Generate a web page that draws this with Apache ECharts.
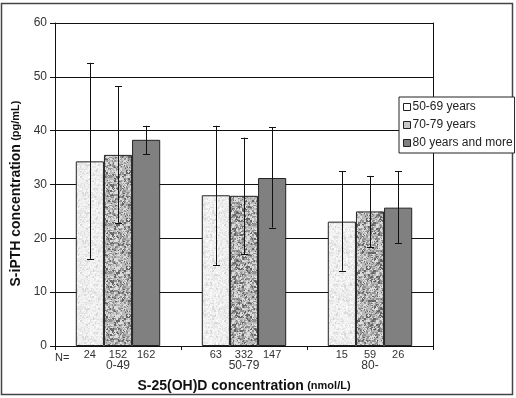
<!DOCTYPE html>
<html>
<head>
<meta charset="utf-8">
<script src="https://cdn.jsdelivr.net/npm/echarts@6/dist/echarts.min.js"></script>
<style>
  html, body { margin: 0; padding: 0; background: #fff; }
  #chart { width: 516px; height: 398px; }
</style>
</head>
<body>
<div id="chart"></div>
<script>
// categories on the x axis (S-25(OH)D groups)
const categories = ['0-49', '50-79', '80-'];
const seriesNames = ['50-69 years', '70-79 years', '80 years and more'];

// mean S-iPTH per age group
const mean5069 = [34.3, 28.0, 23.1];
const mean7079 = [35.5, 27.9, 25.0];
const mean80 = [38.3, 31.2, 25.7];

// error bar ends
const low5069 = [16.1, 15.0, 14.0];
const high5069 = [52.6, 40.9, 32.5];
const low7079 = [22.9, 17.1, 18.3];
const high7079 = [48.3, 38.7, 31.6];
const low80 = [35.6, 22.0, 19.1];
const high80 = [40.9, 40.6, 32.5];

// group sizes
const n5069 = [24, 63, 15];
const n7079 = [152, 332, 59];
const n80 = [162, 147, 26];

const yTicks = [0, 10, 20, 30, 40, 50, 60];

const FONT = 'Liberation Sans, Arial, sans-serif';

// speckled fill textures (deterministic hash, purely cosmetic)
function makeTexture(palette, size, block) {
  const c = document.createElement('canvas');
  c.width = size;
  c.height = size;
  const ctx = c.getContext('2d');
  let s = 12345;
  const next = () => {
    s = (s * 1103515245 + 12345) & 0x7fffffff;
    return s / 0x7fffffff;
  };
  const pick = (r) => {
    for (const [p, cc] of palette) {
      if (r < p) return cc;
    }
    return palette[palette.length - 1][1];
  };
  for (let y = 0; y < size; y += block) {
    for (let x = 0; x < size; x += block) {
      ctx.fillStyle = pick(next());
      ctx.fillRect(x, y, block, block);
    }
  }
  // a second, finer pass so the blobs are not square
  for (let y = 0; y < size; y++) {
    for (let x = 0; x < size; x++) {
      if (next() < 0.3) {
        ctx.fillStyle = pick(next());
        ctx.fillRect(x, y, 1, 1);
      }
    }
  }
  return c;
}

const lightTex = makeTexture([[0.5, '#f2f2f2'], [0.75, '#e6e6e6'], [0.88, '#d9d9d9'], [1, '#fbfbfb']], 48, 2);
const midTex = makeTexture([[0.17, '#666666'], [0.42, '#929292'], [0.72, '#bababa'], [1, '#dcdcdc']], 48, 2);

const chart = echarts.init(document.getElementById('chart'));

const means = [mean5069, mean7079, mean80];
const lows = [low5069, low7079, low80];
const highs = [high5069, high7079, high80];
const counts = [n5069, n7079, n80];
const fills = [
  { image: lightTex, repeat: 'repeat' },
  { image: midTex, repeat: 'repeat' },
  '#808080'
];
const legendColors = ['#ffffff', '#c8c8c8', '#808080'];

const CAT_GAP = 0.33;

const barSeries = means.map((vals, si) => ({
  name: seriesNames[si],
  type: 'bar',
  data: vals,
  barGap: '0%',
  barCategoryGap: '33%',
  itemStyle: { color: fills[si], borderColor: '#222', borderWidth: 1 },
  label: {
    show: true,
    position: 'bottom',
    distance: 3,
    color: '#333',
    fontSize: 11,
    fontFamily: FONT,
    formatter: (p) => String(counts[si][p.dataIndex])
  },
  z: 2
}));

const errSeries = means.map((vals, si) => ({
  name: 'err' + si,
  type: 'custom',
  z: 5,
  silent: true,
  data: categories.map((c, i) => [i, lows[si][i], highs[si][i]]),
  encode: { x: 0, y: [1, 2] },
  renderItem: (params, api) => {
    const band = api.size([1, 0])[0];
    const bw = band * (1 - CAT_GAP) / 3;
    const off = (si - 1) * bw;
    const lo = api.coord([api.value(0), api.value(1)]);
    const hi = api.coord([api.value(0), api.value(2)]);
    const x = Math.round(lo[0] + off) + 0.5;
    const cap = 3.5;
    const st = { stroke: '#111', lineWidth: 1 };
    return {
      type: 'group',
      children: [
        { type: 'line', shape: { x1: x, y1: hi[1], x2: x, y2: lo[1] }, style: st },
        { type: 'line', shape: { x1: x - cap, y1: Math.round(hi[1]) + 0.5, x2: x + cap, y2: Math.round(hi[1]) + 0.5 }, style: st },
        { type: 'line', shape: { x1: x - cap, y1: Math.round(lo[1]) + 0.5, x2: x + cap, y2: Math.round(lo[1]) + 0.5 }, style: st }
      ]
    };
  }
}));

chart.setOption({
  backgroundColor: '#fff',
  animation: false,
  textStyle: { fontFamily: FONT },
  grid: { left: 55, right: 83, top: 23, bottom: 48 },
  legend: {
    orient: 'vertical',
    left: 399,
    top: 97,
    padding: [4, 2, 4, 4],
    itemGap: 6,
    itemWidth: 7,
    itemHeight: 7,
    icon: 'rect',
    borderColor: '#222',
    borderWidth: 1,
    backgroundColor: '#fff',
    textStyle: { fontSize: 12, color: '#222', fontFamily: FONT, padding: [0, 0, 0, -3] },
    data: seriesNames.map((n, i) => ({
      name: n,
      itemStyle: { color: legendColors[i], borderColor: '#222', borderWidth: 1 }
    }))
  },
  xAxis: {
    type: 'category',
    data: categories,
    name: '{b|S-25(OH)D concentration} {s|(nmol/L)}',
    nameLocation: 'middle',
    nameGap: 33,
    nameTextStyle: {
      rich: {
        b: { fontSize: 14, fontWeight: 'bold', color: '#111', fontFamily: FONT },
        s: { fontSize: 11, fontWeight: 'bold', color: '#111', fontFamily: FONT }
      }
    },
    axisLine: { lineStyle: { color: '#111', width: 1 } },
    axisTick: { show: true, length: 4, lineStyle: { color: '#111' } },
    axisLabel: { margin: 14, fontSize: 12, color: '#333', fontFamily: FONT }
  },
  yAxis: [
    {
      type: 'value',
      min: yTicks[0],
      max: yTicks[yTicks.length - 1],
      interval: 10,
      name: '{b|S-iPTH concentration} {s|(pg/mL)}',
      nameLocation: 'middle',
      nameGap: 28,
      nameTextStyle: {
        padding: [0, 18, 0, 0],
        rich: {
          b: { fontSize: 14, fontWeight: 'bold', color: '#111', fontFamily: FONT },
          s: { fontSize: 11, fontWeight: 'bold', color: '#111', fontFamily: FONT }
        }
      },
      axisLine: { show: true, lineStyle: { color: '#111' } },
      axisTick: { show: true, length: 5, lineStyle: { color: '#111' } },
      axisLabel: { margin: 8, fontSize: 12, color: '#333', fontFamily: FONT },
      splitLine: { show: true, lineStyle: { color: '#111', width: 1 } }
    },
    {
      type: 'value',
      position: 'right',
      min: yTicks[0],
      max: yTicks[yTicks.length - 1],
      interval: 10,
      axisLine: { show: true, lineStyle: { color: '#111' } },
      axisTick: { show: false },
      axisLabel: { show: false },
      splitLine: { show: false }
    }
  ],
  graphic: [
    {
      type: 'rect',
      shape: { x: 1.5, y: 3.5, width: 511, height: 391 },
      style: { fill: 'none', stroke: '#444', lineWidth: 1.5 },
      silent: true
    },
    {
      type: 'text',
      left: 55,
      top: 352,
      style: { text: 'N=', fontSize: 11, fill: '#333', fontFamily: FONT }
    }
  ],
  series: barSeries.concat(errSeries)
});
</script>
</body>
</html>
